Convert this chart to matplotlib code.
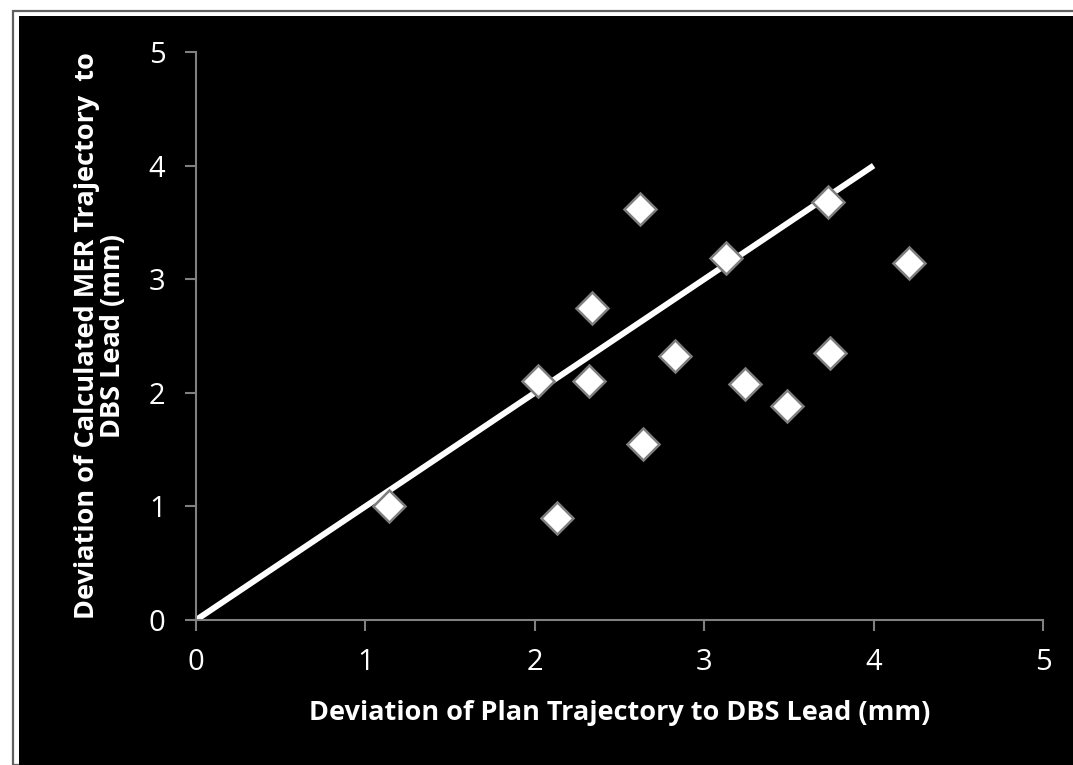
import matplotlib.pyplot as plt
from matplotlib.patches import Rectangle

# deviation of plan trajectory vs calculated MER trajectory (mm)
plan_dev = [1.14, 2.13, 2.02, 2.32, 2.34, 2.62, 2.64, 2.83, 3.13, 3.24, 3.49, 3.73, 3.74, 4.21]
mer_dev = [1.00, 0.90, 2.10, 2.10, 2.75, 3.62, 1.55, 2.32, 3.19, 2.08, 1.88, 3.68, 2.35, 3.14]
ref_line_x = [0, 4]
ref_line_y = [0, 4]
ticks = [0, 1, 2, 3, 4, 5]

plt.rcParams["font.family"] = ["Open Sans", "DejaVu Sans"]

W, H = 1073, 765
fig = plt.figure(figsize=(W / 100, H / 100), dpi=100, facecolor="white")

# outer frame: grey line, thin white gap, then black panel
fig.patches.append(Rectangle((13 / W, 0), 1, 1 - 11 / H, transform=fig.transFigure,
                             facecolor="white", edgecolor="#606060", linewidth=1.6, zorder=-2))
fig.patches.append(Rectangle((19 / W, 0), 1, 1 - 16 / H, transform=fig.transFigure,
                             facecolor="black", edgecolor="none", zorder=-1))

ax = fig.add_axes([196 / W, 1 - 620 / H, (1043 - 196) / W, (620 - 52) / H])
ax.set_facecolor("black")

ax.plot(ref_line_x, ref_line_y, color="white", linewidth=4.3, solid_capstyle="butt", zorder=2)
ax.plot(plan_dev, mer_dev, linestyle="none", marker="D", markersize=16,
        markerfacecolor="white", markeredgecolor="#7f7f7f", markeredgewidth=1.8, zorder=3)

ax.set_xlim(0, 5)
ax.set_ylim(0, 5)
ax.set_xticks(ticks)
ax.set_yticks(ticks)
for s in ("top", "right"):
    ax.spines[s].set_visible(False)
for s in ("left", "bottom"):
    ax.spines[s].set_color("#808080")
    ax.spines[s].set_linewidth(1.5)
ax.tick_params(colors="#808080", width=1.5, length=8, direction="out",
               labelsize=21, labelcolor="white")
ax.tick_params(axis="y", pad=14)
ax.tick_params(axis="x", pad=12)

ax.set_xlabel("Deviation of Plan Trajectory to DBS Lead (mm)", color="white",
              fontsize=19.5, fontweight="bold", labelpad=17)
ax.set_ylabel("Deviation of Calculated MER Trajectory  to\nDBS Lead (mm)", color="white",
              fontsize=19.5, fontweight="bold", labelpad=16, linespacing=1.0)

fig.savefig("out.png", dpi=100, facecolor=fig.get_facecolor())
